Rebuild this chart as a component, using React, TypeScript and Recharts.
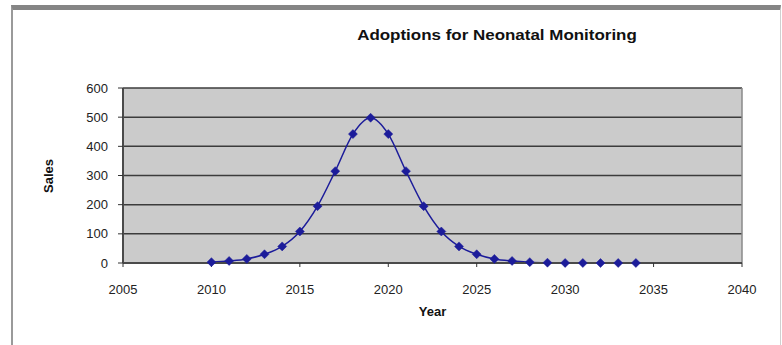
import { LineChart, Line, XAxis, YAxis, CartesianGrid, ReferenceLine, Label } from 'recharts';

// values
const years = [2010, 2011, 2012, 2013, 2014, 2015, 2016, 2017, 2018, 2019, 2020, 2021, 2022, 2023, 2024, 2025, 2026, 2027, 2028, 2029, 2030, 2031, 2032, 2033, 2034];
const sales = [3, 7, 14, 30, 57, 108, 195, 315, 442, 498, 442, 315, 195, 108, 57, 30, 14, 7, 3, 1, 0, 0, 0, 0, 0];
const yearTicks = [2005, 2010, 2015, 2020, 2025, 2030, 2035, 2040];
const salesTicks = [0, 100, 200, 300, 400, 500, 600];

const data = years.map((year, i) => ({ year, sales: sales[i] }));

const LINE_COLOR = '#1c1c9a';
const FONT = 'Liberation Sans, Arial, sans-serif';

// diamond marker like the old Excel default
const Diamond = (props: any) => {
  const { cx, cy } = props;
  if (cx == null || cy == null) return null;
  const r = 4.5;
  return (
    <polygon
      points={`${cx},${cy - r} ${cx + r},${cy} ${cx},${cy + r} ${cx - r},${cy}`}
      fill={LINE_COLOR}
      stroke={LINE_COLOR}
      strokeWidth={0.5}
    />
  );
};

const tickStyle = { fontSize: 13, fill: '#222', fontFamily: FONT };

export default function App() {
  return (
    <div style={{ position: 'absolute', left: 0, top: 0, width: 782, height: 345, background: '#fff', overflow: 'hidden' }}>
      {/* outer chart frame */}
      <div
        style={{
          position: 'absolute',
          left: 11,
          top: 5,
          width: 770,
          height: 345,
          borderTop: '5px solid #858585',
          borderLeft: '2px solid #9a9a9a',
          borderRight: '1px solid #d0d0d0',
          boxSizing: 'border-box',
        }}
      />
      <div
        style={{
          position: 'absolute',
          left: 0,
          top: 26,
          width: 994,
          textAlign: 'center',
          fontFamily: FONT,
          fontWeight: 'bold',
          fontSize: 15,
          transform: 'scaleX(1.13)',
          transformOrigin: '497px 0',
          color: '#111',
        }}
      >
        Adoptions for Neonatal Monitoring
      </div>
      <div
        style={{
          position: 'absolute',
          left: 48,
          top: 176,
          transform: 'translate(-50%, -50%) rotate(-90deg)',
          fontFamily: FONT,
          fontWeight: 'bold',
          fontSize: 13,
          color: '#111',
          whiteSpace: 'nowrap',
        }}
      >
        Sales
      </div>
      <div style={{ position: 'absolute', left: 0, top: 0 }}>
        <LineChart width={782} height={345} data={data} margin={{ top: 88, right: 40, bottom: 52, left: 73 }}>
          <CartesianGrid vertical={false} fill="#cbcbcb" stroke="#3c3c3c" strokeWidth={1.5} />
          <XAxis
            dataKey="year"
            type="number"
            domain={[2005, 2040]}
            ticks={yearTicks}
            height={30}
            tick={tickStyle}
            tickSize={4}
            tickMargin={18}
            axisLine={{ stroke: '#4a4a4a', strokeWidth: 2 }}
            tickLine={{ stroke: '#333' }}
          >
            <Label
              value="Year"
              position="bottom"
              offset={14}
              style={{ fontSize: 13, fontWeight: 'bold', fill: '#111', fontFamily: FONT }}
            />
          </XAxis>
          <YAxis
            type="number"
            domain={[0, 600]}
            ticks={salesTicks}
            width={50}
            tick={tickStyle}
            tickSize={5}
            tickMargin={10}
            axisLine={{ stroke: '#4a4a4a', strokeWidth: 2 }}
            tickLine={{ stroke: '#333' }}
          />
          <ReferenceLine x={2040} stroke="#8a8a8a" strokeWidth={1.5} />
          <Line
            type="monotone"
            dataKey="sales"
            stroke={LINE_COLOR}
            strokeWidth={1.5}
            dot={<Diamond />}
            activeDot={false}
            isAnimationActive={false}
          />
        </LineChart>
      </div>
    </div>
  );
}
